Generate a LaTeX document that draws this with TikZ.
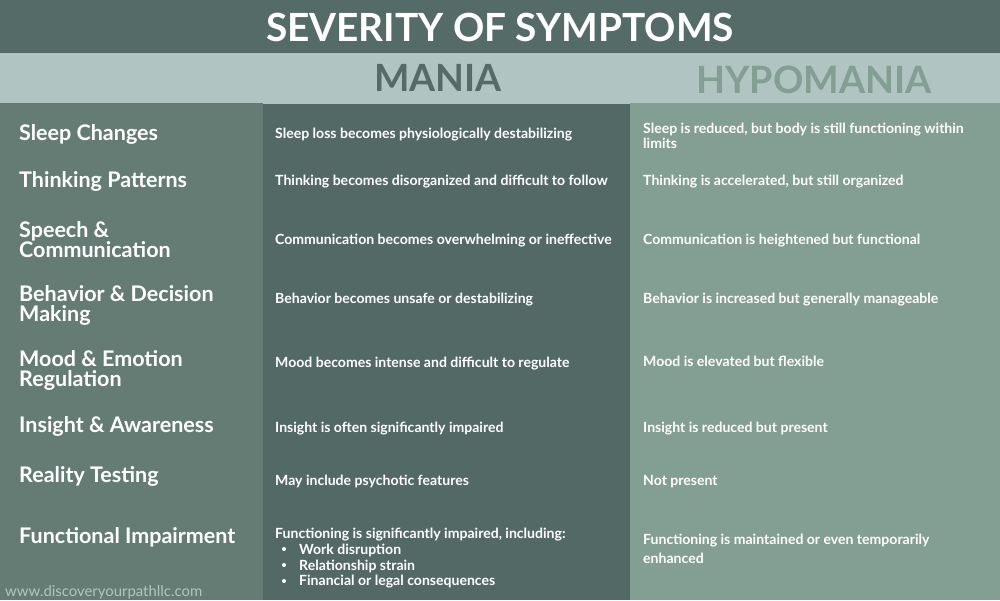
\documentclass[tikz,border=0pt]{standalone}
\usepackage{fontspec}
\setmainfont{Lato}
\usetikzlibrary{positioning}
\definecolor{headgreen}{HTML}{546B67}
\definecolor{bandgreen}{HTML}{B0C5C2}
\definecolor{leftgreen}{HTML}{647C74}
\definecolor{maniagreen}{HTML}{536966}
\definecolor{hypogreen}{HTML}{839E93}
\tikzset{
  rowhead/.style={anchor=west, inner sep=0pt, text=white, font=\fontsize{21.5}{20}\selectfont\bfseries, align=left},
  cell/.style={anchor=west, inner sep=0pt, text=white, font=\fontsize{14.05}{15}\selectfont\bfseries, align=left},
}
\begin{document}
\begin{tikzpicture}[x=1pt, y=-1pt]
        \useasboundingbox (0, 0) rectangle (1000, 600);
        \fill[headgreen] (0, 0) rectangle (1000, 53);
        \fill[bandgreen] (0, 53) rectangle (1000, 104);
        \fill[leftgreen] (0, 103) rectangle (263, 600);
        \fill[maniagreen] (263, 104) rectangle (630, 600);
        \fill[hypogreen] (630, 103) rectangle (1000, 600);
        \node (title) at (500, 27) [text=white, font=\fontsize{38.8}{40}\selectfont\bfseries] {SEVERITY OF SYMPTOMS};
        \node (mania) at (438, 78) [text=headgreen, font=\fontsize{37.5}{39}\selectfont\bfseries] {MANIA};
        \node (hypomania) at (814, 80) [text=hypogreen, font=\fontsize{37.7}{39}\selectfont\bfseries] {HYPOMANIA};
        % left column
        \node (sleep) at (19, 134.5) [rowhead] {Sleep Changes};
        \node (thinking) at (19, 181.5) [rowhead] {Thinking Patterns};
        \node (speech) at (19, 240) [rowhead] {Speech \&\\Communication};
        \node (behavior) at (19, 305) [rowhead] {Behavior \& Decision\\Making};
        \node (mood) at (19, 370) [rowhead] {Mood \& Emotion\\Regulation};
        \node (insight) at (19, 426.5) [rowhead] {Insight \& Awareness};
        \node (reality) at (19, 476.5) [rowhead] {Reality Testing};
        \node (functional) at (19, 537.5) [rowhead] {Functional Impairment};
        % mania column
        \node (msleep) at (275, 135) [cell] {Sleep loss becomes physiologically destabilizing};
        \node (mthinking) at (275, 182) [cell] {Thinking becomes disorganized and difficult to follow};
        \node (mspeech) at (275, 241) [cell] {Communication becomes overwhelming or ineffective};
        \node (mbehavior) at (275, 300) [cell] {Behavior becomes unsafe or destabilizing};
        \node (mmood) at (275, 364) [cell] {Mood becomes intense and difficult to regulate};
        \node (minsight) at (275, 429) [cell] {Insight is often significantly impaired};
        \node (mreality) at (275, 481.5) [cell] {May include psychotic features};
        \node (mfunctional) at (275, 535) [cell] {Functioning is significantly impaired, including:};
        \node (mwork) at (299, 550) [cell] {Work disruption};
        \node (mstrain) at (299, 566) [cell] {Relationship strain};
        \node (mmoney) at (299, 582) [cell] {Financial or legal consequences};
        \fill[white] (284, 549) circle (2);
        \fill[white] (284, 565) circle (2);
        \fill[white] (284, 581) circle (2);
        % hypomania column
        \node (hsleep) at (643, 136) [cell] {Sleep is reduced, but body is still functioning within\\limits};
        \node (hthinking) at (643, 182) [cell] {Thinking is accelerated, but still organized};
        \node (hspeech) at (643, 241) [cell] {Communication is heightened but functional};
        \node (hbehavior) at (643, 300) [cell] {Behavior is increased but generally manageable};
        \node (hmood) at (643, 361.5) [cell] {Mood is elevated but flexible};
        \node (hinsight) at (643, 429) [cell] {Insight is reduced but present};
        \node (hreality) at (643, 482) [cell] {Not present};
        \node (hfunctional) at (643, 549) [cell, font=\fontsize{14.05}{19}\selectfont\bfseries] {Functioning is maintained or even temporarily\\enhanced};
        \node (website) at (5, 592) [anchor=west, inner sep=0pt, text=bandgreen, font=\fontsize{14.9}{15}\selectfont] {www.discoveryourpathllc.com};
        \end{tikzpicture}
\end{document}
